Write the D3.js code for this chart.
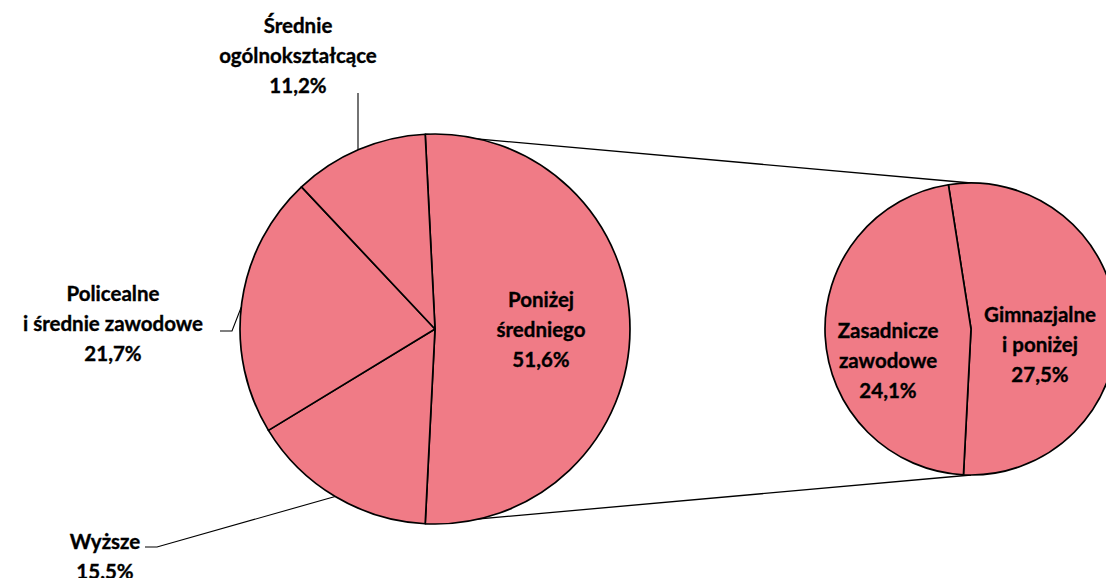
<!DOCTYPE html>
<html>
<head>
<meta charset="utf-8">
<script src="https://cdn.jsdelivr.net/npm/d3@7"></script>
<style>
  body { margin: 0; background: #fff; }
  text { font-family: Lato, "Open Sans", sans-serif; font-weight: bold; font-size: 20.5px; fill: #000; stroke: #000; stroke-width: 0.35px; }
</style>
</head>
<body>
<svg id="canvas" width="1106" height="578"></svg>
<script>
// main pie (first value is the one split into the small pie)
let mainLabels = [["Poniżej", "średniego"], ["Wyższe"], ["Policealne", "i średnie zawodowe"], ["Średnie", "ogólnokształcące"]];
let mainValues = [51.6, 15.5, 21.7, 11.2];
// secondary pie
let subLabels = [["Gimnazjalne", "i poniżej"], ["Zasadnicze", "zawodowe"]];
let subValues = [27.5, 24.1];

const fmt = v => d3.format(".1f")(v).replace(".", ",") + "%";
const fillColor = "#f07b86";

const svg = d3.select('#canvas');
const deg = Math.PI / 180;

const main = {cx: 435, cy: 329, r: 195};
const sub = {cx: 971, cy: 329, r: 146};

// split slice is centred on the right side of the main pie
const mainStart = (90 - mainValues[0] / 100 * 180) * deg;
const mainPie = d3.pie().sort(null).value(d => d).startAngle(mainStart).endAngle(mainStart + 2 * Math.PI);
const subStart = -8.9 * deg;
const subPie = d3.pie().sort(null).value(d => d).startAngle(subStart).endAngle(subStart + 2 * Math.PI);

const mainArc = d3.arc().innerRadius(0).outerRadius(main.r);
const subArc = d3.arc().innerRadius(0).outerRadius(sub.r);

const mainArcs = mainPie(mainValues);
const subArcs = subPie(subValues);

// connector lines
const pt = (c, a, r) => [c.cx + r * Math.sin(a), c.cy - r * Math.cos(a)];
const split = mainArcs[0];
const lines = [
  [pt(main, split.startAngle, main.r), [sub.cx, sub.cy - sub.r]],
  [pt(main, split.endAngle, main.r), [sub.cx, sub.cy + sub.r]]
];
svg.selectAll('line.conn')
  .data(lines)
  .join('line')
  .attr('class', 'conn')
  .attr('x1', d => d[0][0]).attr('y1', d => d[0][1])
  .attr('x2', d => d[1][0]).attr('y2', d => d[1][1])
  .attr('stroke', '#000').attr('stroke-width', 1.3);

const gMain = svg.append('g').attr('transform', `translate(${main.cx},${main.cy})`);
gMain.selectAll('path')
  .data(mainArcs)
  .join('path')
  .attr('d', mainArc)
  .style('fill', fillColor)
  .attr('stroke', '#000').attr('stroke-width', 1.7).attr('stroke-linejoin', 'round');

const gSub = svg.append('g').attr('transform', `translate(${sub.cx},${sub.cy})`);
gSub.selectAll('path')
  .data(subArcs)
  .join('path')
  .attr('d', subArc)
  .style('fill', fillColor)
  .attr('stroke', '#000').attr('stroke-width', 1.7).attr('stroke-linejoin', 'round');

// label anchors (centre of the middle text line), in page pixels
const mainLabelPos = [[541, 330], [105, 557], [113, 324], [298, 56]];
const subLabelPos = [[1040, 345], [888, 361]];
const lineH = 30;

function drawLabel(lines, pos) {
  const t = svg.append('text').attr('text-anchor', 'middle');
  const n = lines.length;
  lines.forEach((s, i) => {
    t.append('tspan').attr('x', pos[0]).attr('y', pos[1] + (i - (n - 1) / 2) * lineH).attr('dy', '0.35em').text(s);
  });
}
mainValues.forEach((v, i) => drawLabel(mainLabels[i].concat([fmt(v)]), mainLabelPos[i]));
subValues.forEach((v, i) => drawLabel(subLabels[i].concat([fmt(v)]), subLabelPos[i]));

// leader lines for the outside labels
const leaders = [
  [[145, 547], [157, 547], pt(main, 210.8 * deg, main.r)],
  [[220, 331], [232, 331], pt(main, 276.4 * deg, main.r)],
  [[358, 93], [358, 93], pt(main, 341 * deg, main.r)]
];
leaders[2][2][0] = 358;
leaders[2][2][1] = main.cy - Math.sqrt(main.r * main.r - (358 - main.cx) ** 2);
svg.selectAll('path.leader')
  .data(leaders)
  .join('path')
  .attr('class', 'leader')
  .attr('d', d => d3.line()(d))
  .attr('fill', 'none')
  .attr('stroke', '#000').attr('stroke-width', 1.1);
</script>
</body>
</html>
